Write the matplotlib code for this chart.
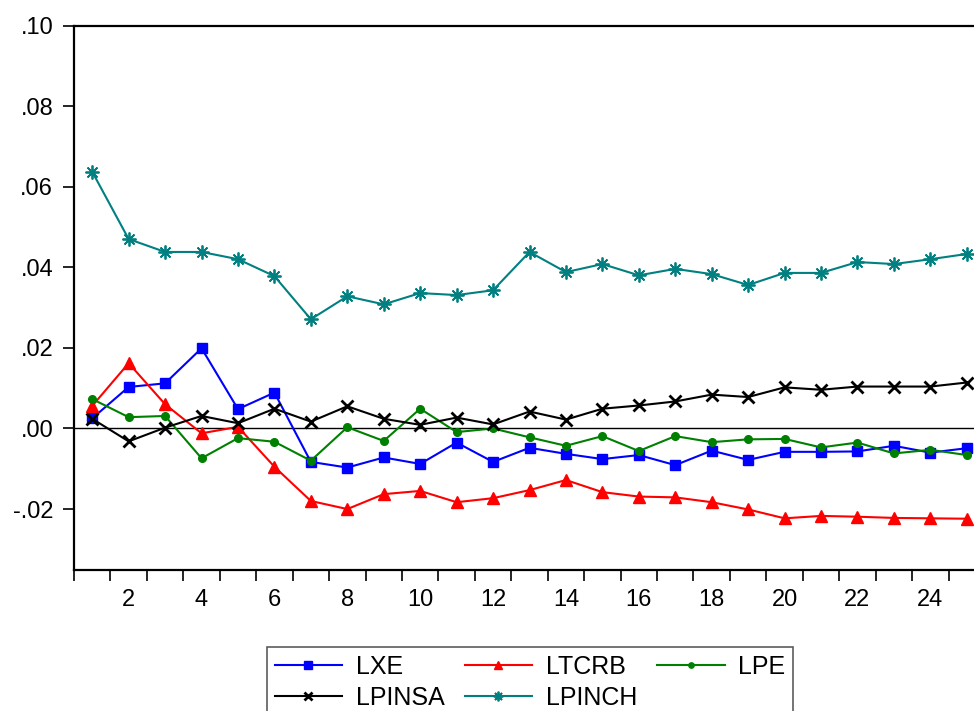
import matplotlib
matplotlib.use("Agg")
import matplotlib.pyplot as plt
from matplotlib.ticker import FuncFormatter, MultipleLocator, FixedLocator
import numpy as np

plt.rcParams['font.family'] = ['Liberation Sans', 'DejaVu Sans']

periods = list(range(1, 26))

lxe = [0.0025, 0.0103, 0.0112, 0.0199, 0.0048, 0.0089, -0.0083, -0.0097, -0.0072, -0.0088,
       -0.0035, -0.0083, -0.0048, -0.0063, -0.0076, -0.0066, -0.0091, -0.0055, -0.0078, -0.0058,
       -0.0058, -0.0057, -0.0043, -0.0060, -0.0049]
ltcrb = [0.0056, 0.0162, 0.0060, -0.0012, 0.0004, -0.0095, -0.0180, -0.0200, -0.0163, -0.0155,
         -0.0183, -0.0173, -0.0153, -0.0128, -0.0158, -0.0169, -0.0171, -0.0183, -0.0201, -0.0223,
         -0.0217, -0.0219, -0.0222, -0.0223, -0.0224]
lpe = [0.0073, 0.0028, 0.0031, -0.0074, -0.0024, -0.0033, -0.0080, 0.0003, -0.0031, 0.0049,
       -0.0009, 0.0000, -0.0022, -0.0043, -0.0019, -0.0056, -0.0019, -0.0034, -0.0027, -0.0026,
       -0.0047, -0.0035, -0.0062, -0.0053, -0.0066]
lpinsa = [0.0024, -0.0032, 0.0002, 0.0031, 0.0013, 0.0049, 0.0017, 0.0055, 0.0024, 0.0009,
          0.0027, 0.0010, 0.0042, 0.0022, 0.0049, 0.0057, 0.0067, 0.0084, 0.0078, 0.0102,
          0.0096, 0.0104, 0.0104, 0.0104, 0.0114]
lpinch = [0.0637, 0.0470, 0.0438, 0.0438, 0.0420, 0.0378, 0.0271, 0.0328, 0.0308, 0.0336,
          0.0331, 0.0343, 0.0438, 0.0388, 0.0408, 0.0380, 0.0396, 0.0383, 0.0356, 0.0386,
          0.0386, 0.0413, 0.0408, 0.0420, 0.0433]

fig = plt.figure(figsize=(9.74, 7.11), dpi=100)
W, H = 974.0, 711.0
ax = fig.add_axes([74 / W, 1 - 569.5 / H, 911 / W, (569.5 - 25.5) / H])

lw = 1.5
ax.axhline(0, color='black', lw=1.0, zorder=1)
l1, = ax.plot(periods, lxe, color='#0000FF', lw=lw, marker='s', ms=7.5, label='LXE', zorder=3)
l2, = ax.plot(periods, ltcrb, color='#FF0000', lw=lw, marker='^', ms=8, label='LTCRB', zorder=3)
l3, = ax.plot(periods, lpe, color='#008000', lw=lw, marker='o', ms=5.5, label='LPE', zorder=3)
l4, = ax.plot(periods, lpinsa, color='black', lw=lw, marker='x', ms=8, mew=2, label='LPINSA', zorder=3)
l5, = ax.plot(periods, lpinch, color='#008080', lw=lw, marker=(8, 2, 0), ms=10, mew=1.3,
              label='LPINCH', zorder=3)

ax.set_xlim(0.5, 25.5)
ax.set_ylim(-0.035, 0.10)

# y axis
ax.yaxis.set_major_locator(MultipleLocator(0.02))
def yfmt(v, pos):
    s = '%.2f' % v
    s = s.replace('0.', '.')
    if s == '-.00':
        s = '.00'
    return s
ax.yaxis.set_major_formatter(FuncFormatter(yfmt))
ax.tick_params(axis='y', direction='out', length=8, width=1.2, labelsize=17, pad=7)

# x axis: labels at even periods, ticks between periods
ax.xaxis.set_major_locator(FixedLocator(list(range(2, 25, 2))))
ax.xaxis.set_minor_locator(FixedLocator(np.arange(0.5, 25.6, 1.0)))
ax.tick_params(axis='x', which='major', length=0, labelsize=17, pad=14)
ax.tick_params(axis='x', which='minor', direction='out', length=8, width=1.2)

for side in ['left', 'bottom', 'top']:
    ax.spines[side].set_linewidth(1.6)
ax.spines['right'].set_visible(False)

handles = [l1, l4, l2, l5, l3]
leg = fig.legend(handles, [h.get_label() for h in handles], ncol=3,
                 loc='upper center', bbox_to_anchor=(530 / W, 1 - 647 / H),
                 borderaxespad=0, fontsize=18, frameon=True, fancybox=False,
                 edgecolor='#333333', handlelength=2.7, handletextpad=0.55,
                 columnspacing=0.8, labelspacing=0.3, borderpad=0.3, markerscale=0.7)
leg.get_frame().set_linewidth(1.2)

fig.savefig('out.png', dpi=100)
